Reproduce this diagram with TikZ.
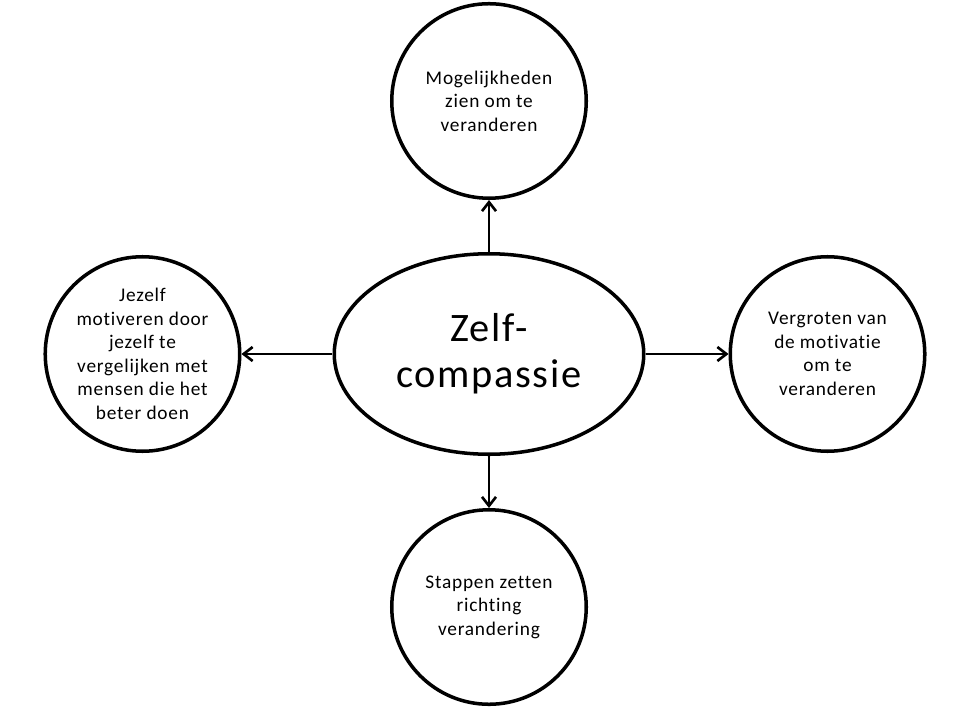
\documentclass[tikz,border=0pt]{standalone}
\usepackage{fontspec}
\setmainfont{Carlito}[Ligatures=NoCommon, LetterSpace=4]
\usetikzlibrary{positioning}
\usetikzlibrary{shapes.geometric}
\usetikzlibrary{arrows.meta}

\begin{document}
\begin{tikzpicture}
                    [
                    x=0.2mm, y=-0.2mm,
                    node distance=10.4mm,
                    kern/.style={ellipse, draw, line width=2pt, minimum width=61.9mm, minimum height=40.1mm, inner sep=0pt, align=center, font=\fontsize{23}{26}\selectfont},
                    rond/.style={circle, draw, line width=2pt, minimum size=38.9mm, inner sep=0pt, align=center, font=\fontsize{11}{13.4}\selectfont},
                    ]
                    \useasboundingbox (0,0) rectangle (960,720);
                    %
                    \node[kern] (zelfcompassie) at (489,354) {Zelf-\\compassie};
                    \node[rond, above=of zelfcompassie] (mogelijkheden) {Mogelijkheden\\zien om te\\veranderen};
                    \node[rond, below=of zelfcompassie] (stappen) {Stappen zetten\\richting\\verandering};
                    \node[rond, left=18.2mm of zelfcompassie] (jezelf) {Jezelf\\motiveren door\\jezelf te\\vergelijken met\\mensen die het\\beter doen};
                    \node[rond, right=16.6mm of zelfcompassie] (vergroten) {Vergroten van\\de motivatie\\om te\\veranderen};
                    %
                    \path[-{Straight Barb[length=1.8mm,width=2.8mm]}, line width=1.5pt]
                        (zelfcompassie) edge (mogelijkheden)
                        (zelfcompassie) edge (stappen)
                        (zelfcompassie) edge (jezelf)
                        (zelfcompassie) edge (vergroten)
                    ;
                \end{tikzpicture}
\end{document}
